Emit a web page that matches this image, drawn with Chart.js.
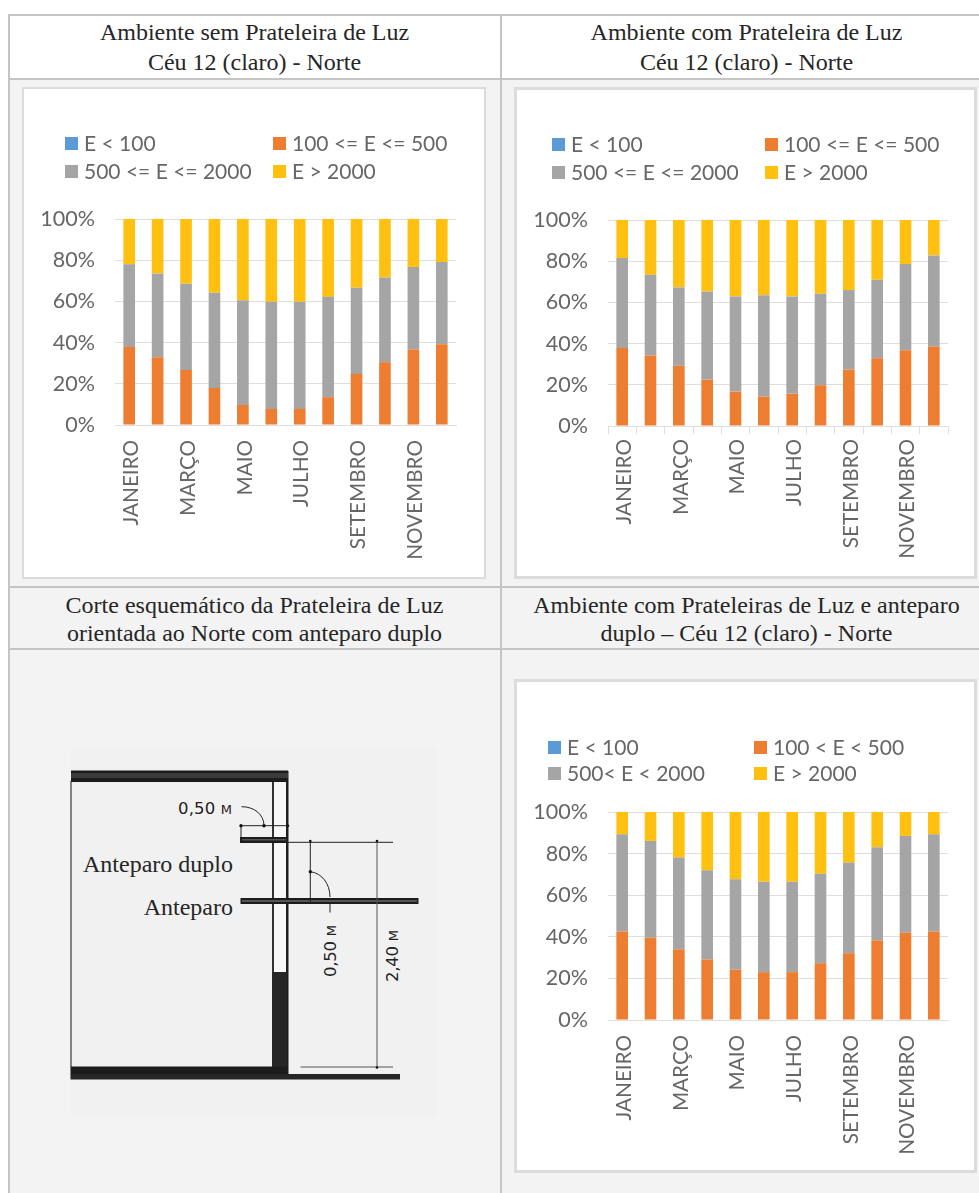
<!DOCTYPE html>
<html lang="pt">
<head>
<meta charset="utf-8">
<title>Prateleira de Luz - Norte</title>
<script src="https://cdn.jsdelivr.net/npm/chart.js@4"></script>
<style>
  html, body { margin: 0; padding: 0; background: #fff; }
  body { position: relative; width: 979px; height: 1193px; overflow: hidden; }
  .cell { position: absolute; background: #f3f3f3; }
  .rule { position: absolute; background: #c4c4c4; }
  .head { position: absolute; text-align: center; font-family: "Liberation Serif", serif; font-size: 24px; color: #262626; white-space: nowrap; }
  .card { position: absolute; box-sizing: border-box; background: #fff; border: 2px solid #dcdcdc; }
  .card canvas { position: absolute; left: 0; top: 0; }
  .swatch { position: absolute; width: 13px; height: 13px; }
  .key { position: absolute; font-family: Lato, sans-serif; font-size: 21px; line-height: 24px; color: #666; white-space: nowrap; }
  svg { position: absolute; left: 0; top: 0; }
  svg .note { font-family: "Liberation Serif", serif; font-size: 24px; fill: #262626; }
  svg .dim { font-family: "DejaVu Sans", sans-serif; font-size: 16.5px; fill: #222; }
</style>
</head>
<body>
<div class="cell" style="left:9px;top:80px;width:970px;height:1113px"></div>
<div class="rule" style="left:8px;top:14px;width:971px;height:2px"></div>
<div class="rule" style="left:8px;top:78px;width:971px;height:2px"></div>
<div class="rule" style="left:8px;top:586px;width:971px;height:2px"></div>
<div class="rule" style="left:8px;top:648px;width:971px;height:2px"></div>
<div class="rule" style="left:8px;top:14px;width:2px;height:1179px"></div>
<div class="rule" style="left:499.5px;top:14px;width:2px;height:1179px"></div>

<div class="head" style="left:9px;width:491px;top:17px;line-height:30px">Ambiente sem Prateleira de Luz<br>Céu 12 (claro) - Norte</div>
<div class="head" style="left:501px;width:491px;top:17px;line-height:30px">Ambiente com Prateleira de Luz<br>Céu 12 (claro) - Norte</div>
<div class="head" style="left:9px;width:491px;top:591px;line-height:28px">Corte esquemático da Prateleira de Luz<br>orientada ao Norte com anteparo duplo</div>
<div class="head" style="left:501px;width:491px;top:591px;line-height:28px">Ambiente com Prateleiras de Luz e anteparo<br>duplo – Céu 12 (claro) - Norte</div>

<div class="card" id="cardSem" style="left:22px;top:87px;width:464px;height:492px"></div>
<div class="card" id="cardCom" style="left:514px;top:87px;width:463px;height:492px;border-width:3px"></div>
<div class="card" id="cardDuplo" style="left:514px;top:679px;width:463px;height:494px;border-width:3px"></div>

<!-- corte da prateleira de luz -->
<svg width="979" height="1193" viewBox="0 0 979 1193">
  <rect x="71" y="747" width="366" height="370" fill="#f1f1f1"/>
  <!-- janela e paredes -->
  <rect x="274" y="782" width="12" height="190" fill="#f8f8f8"/>
  <rect x="272" y="782" width="2" height="190" fill="#333"/>
  <rect x="286" y="771" width="2.5" height="303" fill="#1e1e1e"/>
  <rect x="272" y="972" width="15" height="96" fill="#262626"/>
  <path d="M71 781V1067" stroke="#666" stroke-width="1.6" fill="none"/>
  <!-- lajes -->
  <rect x="71" y="770.5" width="217" height="11.5" fill="#1c1c1c"/>
  <rect x="71" y="773" width="217" height="5" fill="#3a3a3a"/>
  <rect x="70.5" y="1066.5" width="217" height="8" fill="#1c1c1c"/>
  <rect x="70.5" y="1074" width="329.500" height="5.500" fill="#262626"/>
  <!-- anteparos -->
  <rect x="240" y="837" width="47" height="6" fill="#1c1c1c"/>
  <rect x="242" y="839" width="44" height="1.500" fill="#555"/>
  <rect x="240.500" y="898" width="178" height="6" fill="#1c1c1c"/>
  <rect x="242" y="900" width="175" height="2" fill="#555"/>
  <!-- cotas -->
  <g fill="none" stroke="#222" stroke-width="1">
    <path d="M240 825.700H289M241 825.700V837"/>
    <path d="M241.500 806.700C255 806.700 264 815 264 825.700"/>
    <path d="M287 842.300H393"/>
    <path d="M310.300 841V904"/>
    <path d="M310.300 871.700C322 873 330 884 330 897M330 904V912.500"/>
    <path d="M377 841V1067" stroke="#555"/>
    <path d="M300.500 1067H393" stroke="#555"/>
  </g>
  <g fill="#111">
    <circle cx="241" cy="825.700" r="1.700"/>
    <circle cx="264" cy="825.700" r="1.700"/>
    <circle cx="288" cy="825.700" r="1.300"/>
    <circle cx="310.300" cy="841" r="1.300"/>
    <circle cx="310.300" cy="871.700" r="1.700"/>
    <circle cx="377" cy="841" r="1.300"/>
    <circle cx="377" cy="1067.500" r="1.300"/>
  </g>
  <text class="dim" x="178" y="814" textLength="54">0,50 <tspan font-size="13">M</tspan></text>
  <text class="dim" transform="translate(336 977) rotate(-90)" textLength="52">0,50 <tspan font-size="13">M</tspan></text>
  <text class="dim" transform="translate(398 982) rotate(-90)" textLength="52">2,40 <tspan font-size="13">M</tspan></text>
  <text class="note" x="233" y="871.500" text-anchor="end">Anteparo duplo</text>
  <text class="note" x="233" y="914.500" text-anchor="end">Anteparo</text>
</svg>

<script>
const meses = ['JANEIRO', 'FEVEREIRO', 'MARÇO', 'ABRIL', 'MAIO', 'JUNHO', 'JULHO', 'AGOSTO', 'SETEMBRO', 'OUTUBRO', 'NOVEMBRO', 'DEZEMBRO'];
const ticksPct = [0, 20, 40, 60, 80, 100];

// percentuais da area por faixa de iluminancia
const abaixo100 = [0, 0, 0, 0, 0, 0, 0, 0, 0, 0, 0, 0];

const semFaixa100a500 = [37.9, 32.9, 26.7, 18, 9.7, 7.8, 7.8, 13.5, 24.8, 30.5, 36.6, 39.2];
const semFaixa500a2000 = [40.1, 40.7, 41.9, 46.2, 50.8, 52, 52, 48.7, 41.8, 41.1, 40.1, 39.9];
const semAcima2000 = [22, 26.4, 31.4, 35.8, 39.5, 40.2, 40.2, 37.8, 33.4, 28.4, 23.3, 20.9];

const comFaixa100a500 = [37.9, 34.2, 29.2, 22.4, 16.7, 14.3, 15.6, 19.8, 27.4, 32.9, 36.8, 38.6];
const comFaixa500a2000 = [43.6, 39.2, 38.1, 42.9, 46.2, 49.2, 47.3, 44.4, 38.6, 38.1, 41.8, 44.2];
const comAcima2000 = [18.5, 26.6, 32.7, 34.7, 37.1, 36.5, 37.1, 35.8, 34, 29, 21.4, 17.2];

const duploFaixa100a500 = [42.5, 39.5, 34, 29.1, 24.1, 23, 23, 27.3, 32.1, 38.3, 42, 42.5];
const duploFaixa500a2000 = [46.8, 46.6, 44.1, 42.9, 43.6, 43.5, 43.5, 43, 43.6, 44.8, 46.5, 46.8];
const duploAcima2000 = [10.7, 13.9, 21.9, 28, 32.3, 33.5, 33.5, 29.7, 24.3, 16.9, 11.5, 10.7];

const legendaPadrao = ['E < 100', '100 <= E <= 500', '500 <= E <= 2000', 'E > 2000'];
const legendaDuplo = ['E < 100', '100 < E < 500', '500< E < 2000', 'E > 2000'];

const cores = ['#5B9BD5', '#ED7D31', '#A5A5A5', '#FFC010'];
const corTexto = '#666';
const corGrade = '#dedede';

function criaGrafico(cfg) {
  const card = document.getElementById(cfg.card);
  const canvas = document.createElement('canvas');
  canvas.width = card.clientWidth;
  canvas.height = card.clientHeight;
  canvas.style.width = card.clientWidth + 'px';
  canvas.style.height = card.clientHeight + 'px';
  card.appendChild(canvas);

  const datasets = cfg.series.map((valores, i) => ({
    label: cfg.legenda[i],
    data: valores,
    backgroundColor: cores[i],
    barPercentage: 0.41,
    categoryPercentage: 1
  }));

  // legenda em duas colunas, como o Excel desenha
  datasets.forEach((ds, i) => {
    const col = i % 2, lin = Math.floor(i / 2);
    const sw = document.createElement('div');
    sw.className = 'swatch';
    sw.style.cssText = `left:${cfg.legX[col]}px;top:${cfg.legY[lin] - 6}px;background:${ds.backgroundColor}`;
    const txt = document.createElement('div');
    txt.className = 'key';
    txt.textContent = ds.label;
    txt.style.left = (cfg.legX[col] + 19) + 'px';
    txt.style.top = (cfg.legY[lin] - 12) + 'px';
    card.appendChild(sw);
    card.appendChild(txt);
  });

  return new Chart(canvas, {
    type: 'bar',
    data: { labels: meses, datasets: datasets },
    options: {
      responsive: false,
      animation: false,
      layout: { padding: { top: cfg.topo, right: cfg.direita, left: 0, bottom: 0 } },
      plugins: { legend: { display: false }, tooltip: { enabled: false } },
      scales: {
        x: {
          stacked: true,
          afterFit: (scale) => { scale.height = cfg.baseX; },
          grid: { display: cfg.marcas, drawOnChartArea: false, tickLength: 8, color: corGrade },
          border: { display: true, color: corGrade },
          ticks: {
            autoSkip: false,
            minRotation: 90,
            maxRotation: 90,
            padding: cfg.marcas ? 5 : 7,
            labelOffset: 2,
            color: corTexto,
            font: { family: 'Lato', size: 20.7 },
            callback(value, index) {
              return index % 2 ? '' : this.getLabelForValue(value);
            }
          }
        },
        y: {
          stacked: true,
          min: 0,
          max: 100,
          afterFit: (scale) => { scale.width = cfg.largY; },
          afterBuildTicks: (scale) => { scale.ticks = ticksPct.map((v) => ({ value: v })); },
          grid: { color: corGrade, drawTicks: false },
          border: { display: false },
          ticks: {
            padding: 20,
            color: corTexto,
            font: { family: 'Lato', size: 21.5 },
            callback: (v) => v + '%'
          }
        }
      }
    }
  });
}

criaGrafico({
  card: 'cardSem',
  series: [abaixo100, semFaixa100a500, semFaixa500a2000, semAcima2000],
  legenda: legendaPadrao,
  legX: [41, 249],
  legY: [54, 82],
  topo: 130, direita: 28, baseX: 152, largY: 91, marcas: false
});

criaGrafico({
  card: 'cardCom',
  series: [abaixo100, comFaixa100a500, comFaixa500a2000, comAcima2000],
  legenda: legendaPadrao,
  legX: [35, 248],
  legY: [54, 82],
  topo: 130, direita: 26, baseX: 150, largY: 91, marcas: true
});

criaGrafico({
  card: 'cardDuplo',
  series: [abaixo100, duploFaixa100a500, duploFaixa500a2000, duploAcima2000],
  legenda: legendaDuplo,
  legX: [31, 237],
  legY: [65, 91],
  topo: 130, direita: 26, baseX: 150, largY: 91, marcas: false
});
</script>
</body>
</html>
